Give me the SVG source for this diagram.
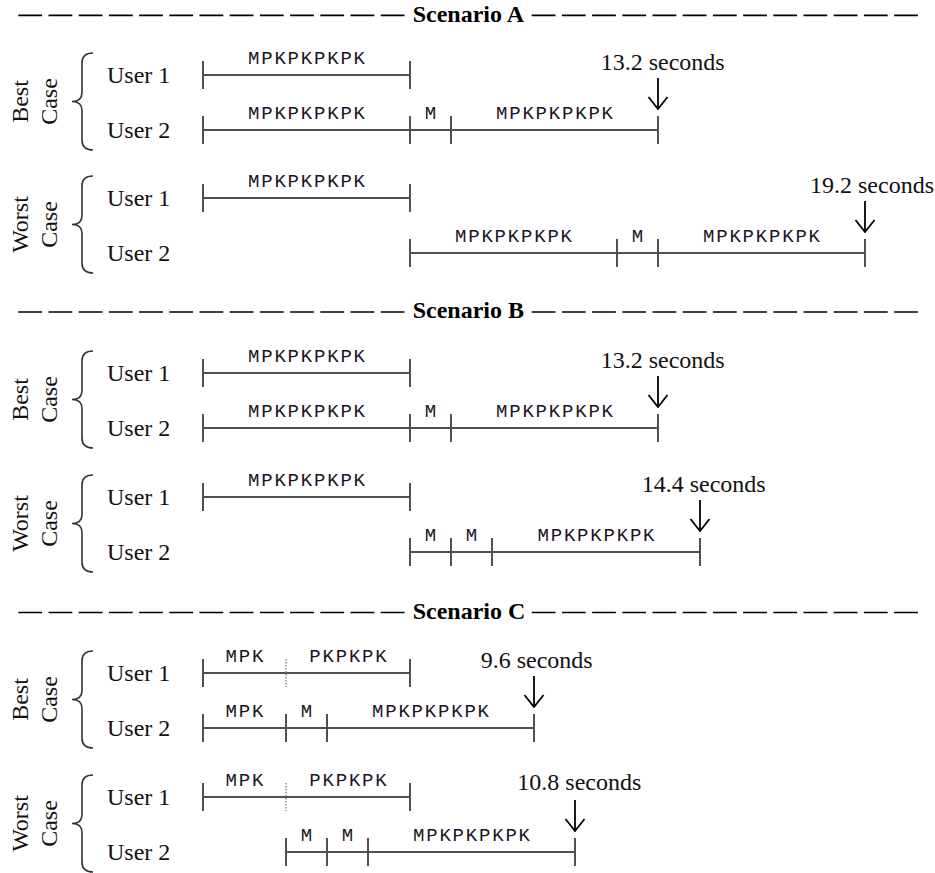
<svg xmlns="http://www.w3.org/2000/svg" width="935" height="873" viewBox="0 0 935 873">
<style>
.hd{stroke:#000;stroke-width:1.6;stroke-dasharray:23.8 6.4;fill:none}
.ht{font-family:"Liberation Serif",serif;font-weight:bold;font-size:24px;fill:#000}
.t{font-family:"Liberation Serif",serif;font-size:24px;fill:#111}
.c{text-anchor:middle}
.m{font-family:"Liberation Mono",monospace;font-size:19px;letter-spacing:1.8px;fill:#1c1426;text-anchor:middle}
.ln{stroke:#505050;stroke-width:2;fill:none}
.dot{stroke:#8a8a8a;stroke-width:1.5;stroke-dasharray:1.5 1.5;fill:none}
.br{stroke:#333;stroke-width:1.6;fill:none}
.ar{stroke:#000;stroke-width:1.8;fill:none;marker-end:url(#v)}
</style>
<defs>
<marker id="v" markerUnits="userSpaceOnUse" viewBox="-13 -11 14 22" refX="0" refY="0" markerWidth="14" markerHeight="22" orient="auto">
<path d="M-12,-9.5 L0,0 L-12,9.5" fill="none" stroke="#000" stroke-width="1.8"/>
</marker>
</defs>
<rect width="935" height="873" fill="#fff"/>

<!-- Scenario A -->
<g id="headerA">
<line class="hd" x1="18.3" y1="15.4" x2="405" y2="15.4"/>
<text class="ht" x="412.7" y="21.5">Scenario A</text>
<line class="hd" x1="531.7" y1="15.4" x2="919" y2="15.4"/>
</g>
<g id="A-best">
<path class="br" d="M93,53 C86,53 82,56 82,63 L82,92.5 C82,98.5 78,101.5 72,101.5 C78,101.5 82,104.5 82,110.5 L82,140 C82,147 86,150 93,150"/>
<text class="t c" transform="translate(28,101.5) rotate(-90)">Best</text>
<text class="t c" transform="translate(57,101.5) rotate(-90)">Case</text>
</g>
<g id="A-best-user1">
<text class="t" x="107" y="83">User 1</text>
<path class="ln" d="M203,75H410 M203,61V89 M410,61V89"/>
<text class="m" x="307.4" y="63.5">MPKPKPKPK</text>
</g>
<g id="A-best-user2">
<text class="t" x="107" y="138">User 2</text>
<path class="ln" d="M203,130H658 M203,116V144 M410,116V144 M451,116V144 M658,116V144"/>
<text class="m" x="307.4" y="118.5">MPKPKPKPK</text>
<text class="m" x="431.4" y="118.5">M</text>
<text class="m" x="555.4" y="118.5">MPKPKPKPK</text>
</g>
<g id="A-best-time"><text class="t" x="600.7" y="70">13.2 seconds</text></g>

<g id="A-worst">
<path class="br" d="M93,176 C86,176 82,179 82,186 L82,215.5 C82,221.5 78,224.5 72,224.5 C78,224.5 82,227.5 82,233.5 L82,263 C82,270 86,273 93,273"/>
<text class="t c" transform="translate(28,224.5) rotate(-90)">Worst</text>
<text class="t c" transform="translate(57,224.5) rotate(-90)">Case</text>
</g>
<g id="A-worst-user1">
<text class="t" x="107" y="206">User 1</text>
<path class="ln" d="M203,198H410 M203,184V212 M410,184V212"/>
<text class="m" x="307.4" y="186.5">MPKPKPKPK</text>
</g>
<g id="A-worst-user2">
<text class="t" x="107" y="261">User 2</text>
<path class="ln" d="M410,253H865 M410,239V267 M617,239V267 M658,239V267 M865,239V267"/>
<text class="m" x="514.4" y="241.5">MPKPKPKPK</text>
<text class="m" x="638.4" y="241.5">M</text>
<text class="m" x="762.4" y="241.5">MPKPKPKPK</text>
</g>
<g id="A-worst-time"><text class="t" x="810" y="193">19.2 seconds</text></g>

<!-- Scenario B -->
<g id="headerB">
<line class="hd" x1="18.3" y1="312" x2="405" y2="312"/>
<text class="ht" x="412.7" y="318">Scenario B</text>
<line class="hd" x1="531.7" y1="312" x2="919" y2="312"/>
</g>
<g id="B-best">
<path class="br" d="M93,351 C86,351 82,354 82,361 L82,390.5 C82,396.5 78,399.5 72,399.5 C78,399.5 82,402.5 82,408.5 L82,438 C82,445 86,448 93,448"/>
<text class="t c" transform="translate(28,399.5) rotate(-90)">Best</text>
<text class="t c" transform="translate(57,399.5) rotate(-90)">Case</text>
</g>
<g id="B-best-user1">
<text class="t" x="107" y="381">User 1</text>
<path class="ln" d="M203,373H410 M203,359V387 M410,359V387"/>
<text class="m" x="307.4" y="361.5">MPKPKPKPK</text>
</g>
<g id="B-best-user2">
<text class="t" x="107" y="436">User 2</text>
<path class="ln" d="M203,428H658 M203,414V442 M410,414V442 M451,414V442 M658,414V442"/>
<text class="m" x="307.4" y="416.5">MPKPKPKPK</text>
<text class="m" x="431.4" y="416.5">M</text>
<text class="m" x="555.4" y="416.5">MPKPKPKPK</text>
</g>
<g id="B-best-time"><text class="t" x="600.7" y="368">13.2 seconds</text></g>

<g id="B-worst">
<path class="br" d="M93,475 C86,475 82,478 82,485 L82,514.5 C82,520.5 78,523.5 72,523.5 C78,523.5 82,526.5 82,532.5 L82,562 C82,569 86,572 93,572"/>
<text class="t c" transform="translate(28,523.5) rotate(-90)">Worst</text>
<text class="t c" transform="translate(57,523.5) rotate(-90)">Case</text>
</g>
<g id="B-worst-user1">
<text class="t" x="107" y="505">User 1</text>
<path class="ln" d="M203,497H410 M203,483V511 M410,483V511"/>
<text class="m" x="307.4" y="485.5">MPKPKPKPK</text>
</g>
<g id="B-worst-user2">
<text class="t" x="107" y="560">User 2</text>
<path class="ln" d="M410,552H700 M410,538V566 M451,538V566 M492,538V566 M700,538V566"/>
<text class="m" x="431.4" y="540.5">M</text>
<text class="m" x="472.4" y="540.5">M</text>
<text class="m" x="596.9" y="540.5">MPKPKPKPK</text>
</g>
<g id="B-worst-time"><text class="t" x="641.7" y="492">14.4 seconds</text></g>

<!-- Scenario C -->
<g id="headerC">
<line class="hd" x1="18.3" y1="612.5" x2="405" y2="612.5"/>
<text class="ht" x="412.7" y="618.5">Scenario C</text>
<line class="hd" x1="531.7" y1="612.5" x2="919" y2="612.5"/>
</g>
<g id="C-best">
<path class="br" d="M93,651 C86,651 82,654 82,661 L82,690.5 C82,696.5 78,699.5 72,699.5 C78,699.5 82,702.5 82,708.5 L82,738 C82,745 86,748 93,748"/>
<text class="t c" transform="translate(28,699.5) rotate(-90)">Best</text>
<text class="t c" transform="translate(57,699.5) rotate(-90)">Case</text>
</g>
<g id="C-best-user1">
<text class="t" x="107" y="681">User 1</text>
<path class="ln" d="M203,673H410 M203,659V687 M410,659V687"/>
<line class="dot" x1="286" y1="659" x2="286" y2="687"/>
<text class="m" x="245.4" y="661.5">MPK</text>
<text class="m" x="348.9" y="661.5">PKPKPK</text>
</g>
<g id="C-best-user2">
<text class="t" x="107" y="736">User 2</text>
<path class="ln" d="M203,728H534 M203,714V742 M286,714V742 M327,714V742 M534,714V742"/>
<text class="m" x="245.4" y="716.5">MPK</text>
<text class="m" x="307.4" y="716.5">M</text>
<text class="m" x="431.4" y="716.5">MPKPKPKPK</text>
</g>
<g id="C-best-time"><text class="t" x="480.7" y="668">9.6 seconds</text></g>

<g id="C-worst">
<path class="br" d="M93,775 C86,775 82,778 82,785 L82,814.5 C82,820.5 78,823.5 72,823.5 C78,823.5 82,826.5 82,832.5 L82,862 C82,869 86,872 93,872"/>
<text class="t c" transform="translate(28,823.5) rotate(-90)">Worst</text>
<text class="t c" transform="translate(57,823.5) rotate(-90)">Case</text>
</g>
<g id="C-worst-user1">
<text class="t" x="107" y="805">User 1</text>
<path class="ln" d="M203,797H410 M203,783V811 M410,783V811"/>
<line class="dot" x1="286" y1="783" x2="286" y2="811"/>
<text class="m" x="245.4" y="785.5">MPK</text>
<text class="m" x="348.9" y="785.5">PKPKPK</text>
</g>
<g id="C-worst-user2">
<text class="t" x="107" y="860">User 2</text>
<path class="ln" d="M286,852H575 M286,838V866 M327,838V866 M368,838V866 M575,838V866"/>
<text class="m" x="307.4" y="840.5">M</text>
<text class="m" x="348.4" y="840.5">M</text>
<text class="m" x="472.4" y="840.5">MPKPKPKPK</text>
</g>
<g id="C-worst-time"><text class="t" x="517.3" y="790">10.8 seconds</text></g>

<g id="connectors">
<line class="ar" x1="658" y1="78" x2="658" y2="109"/>
<line class="ar" x1="865" y1="201" x2="865" y2="232"/>
<line class="ar" x1="658" y1="376" x2="658" y2="407"/>
<line class="ar" x1="700" y1="500" x2="700" y2="531"/>
<line class="ar" x1="534" y1="676" x2="534" y2="707"/>
<line class="ar" x1="575" y1="800" x2="575" y2="831"/>
</g>
</svg>
